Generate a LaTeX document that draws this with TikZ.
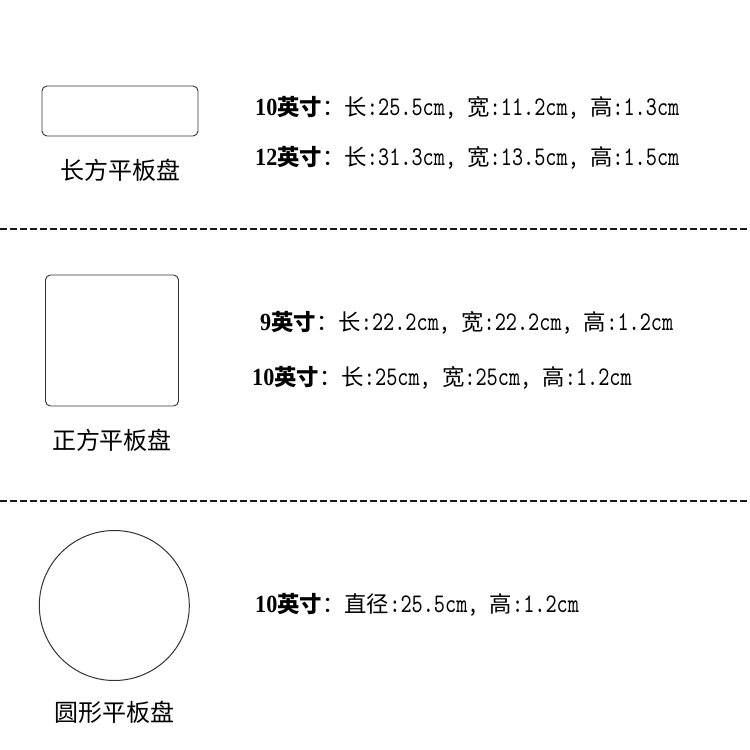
\documentclass[tikz,border=0pt]{standalone}
\usepackage{fontspec}
\setmainfont{Liberation Serif}
\newfontfamily\zhfont{Noto Sans CJK SC}
\newfontfamily\hwfont[Scale=1.2, FakeStretch=0.79]{lmmono10-regular.otf}
\newfontfamily\numfont[Scale=1.1, FakeStretch=0.9]{Liberation Serif}
\newcommand{\zh}[1]{{\zhfont #1}}
\newcommand{\traysize}[1]{{\numfont\bfseries #1\zhfont 英寸}}
\usetikzlibrary{positioning}

\begin{document}
\begin{tikzpicture}[
    x=1pt, y=-1pt,
    plate/.style={rectangle, draw=black!80, line width=0.9pt, rounded corners=5pt, inner sep=0pt},
    disc/.style={circle, draw=black!80, line width=1pt, inner sep=0pt, minimum size=150pt},
    caption/.style={font=\fontsize{24}{28}\selectfont\zhfont, inner sep=0pt},
    spec/.style={anchor=west, inner sep=0pt, font=\fontsize{22.4}{26}\selectfont\hwfont},
    divider/.style={draw=black!90, line width=1.1pt, dash pattern=on 7pt off 3pt}
]
\useasboundingbox (0,0) rectangle (750,750);

% rectangular tray
\node[plate, minimum width=156pt, minimum height=50pt] (rectplate) at (120,111) {};
\node[caption, below=22pt of rectplate] (rectname) {长方平板盘};
\node[spec] (rectA) at (255,108) {\traysize{10}\zh{：长}:25.5cm, \zh{宽}:11.2cm, \zh{高}:1.3cm};
\node[spec] (rectB) at (255,158) {\traysize{12}\zh{：长}:31.3cm, \zh{宽}:13.5cm, \zh{高}:1.5cm};

\draw[divider] (0,229) -- (750,229);

% square tray
\node[plate, minimum width=133pt, minimum height=131pt] (squareplate) at (112,340.5) {};
\node[caption, below=22pt of squareplate] (squarename) {正方平板盘};
\node[spec] (squareA) at (260,323) {\traysize{9}\zh{：长}:22.2cm, \zh{宽}:22.2cm, \zh{高}:1.2cm};
\node[spec] (squareB) at (252,378) {\traysize{10}\zh{：长}:25cm, \zh{宽}:25cm, \zh{高}:1.2cm};

\draw[divider] (0,501) -- (750,501);

% round tray
\node[disc] (roundplate) at (114.3,605.5) {};
\node[caption, below=20pt of roundplate] (roundname) {圆形平板盘};
\node[spec] (roundA) at (255,605) {\traysize{10}\zh{：直径}:25.5cm, \zh{高}:1.2cm};

\end{tikzpicture}
\end{document}
